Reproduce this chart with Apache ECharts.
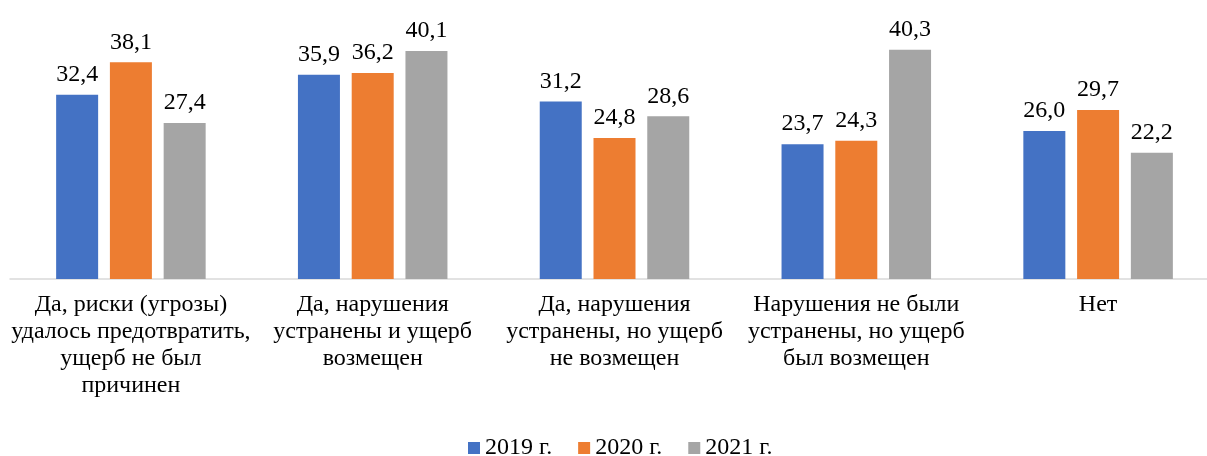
<!DOCTYPE html>
<html>
<head>
<meta charset="utf-8">
<script src="https://cdn.jsdelivr.net/npm/echarts@6/dist/echarts.min.js"></script>
<style>
    html, body { margin: 0; padding: 0; background: #fff; }
    #chart { width: 1207px; height: 456px; }
</style>
</head>
<body>
<div id="chart"></div>
<script>
    // категории (переносы строк как на картинке)
    var categories = [
        'Да, риски (угрозы)\nудалось предотвратить,\nущерб не был\nпричинен',
        'Да, нарушения\nустранены и ущерб\nвозмещен',
        'Да, нарушения\nустранены, но ущерб\nне возмещен',
        'Нарушения не были\nустранены, но ущерб\nбыл возмещен',
        'Нет'
    ];
    var seriesNames = ['2019 г.', '2020 г.', '2021 г.'];
    var data2019 = [32.4, 35.9, 31.2, 23.7, 26.0];
    var data2020 = [38.1, 36.2, 24.8, 24.3, 29.7];
    var data2021 = [27.4, 40.1, 28.6, 40.3, 22.2];
    var colors = ['#4472C4', '#ED7D31', '#A5A5A5'];

    var fontFam = 'Liberation Serif';

    var myChart = echarts.init(document.getElementById('chart'));

    function mkSeries(name, data, i) {
        return {
            name: name,
            type: 'bar',
            data: data,
            barWidth: 42,
            barGap: '28%',
            itemStyle: { color: colors[i] },
            label: {
                show: true,
                position: 'top',
                distance: 8,
                color: '#000',
                fontFamily: fontFam,
                fontSize: 24,
                formatter: function (p) {
                    return p.value.toFixed(1).replace('.', ',');
                }
            }
        };
    }

    var option = {
        animation: false,
        textStyle: { fontFamily: fontFam },
        grid: { left: 10, top: 23, width: 1209, bottom: 177, containLabel: false, outerBoundsMode: 'none' },
        legend: {
            left: 463,
            top: 431,
            itemWidth: 12,
            itemHeight: 12,
            itemGap: 26,
            icon: 'rect',
            textStyle: { fontFamily: fontFam, fontSize: 24, color: '#000' },
            data: seriesNames
        },
        xAxis: {
            type: 'category',
            data: categories,
            axisLine: { lineStyle: { color: '#D9D9D9', width: 1.5 } },
            axisTick: { show: false },
            axisLabel: {
                interval: 0,
                margin: 12,
                color: '#000',
                fontFamily: fontFam,
                fontSize: 24,
                lineHeight: 27
            }
        },
        yAxis: {
            type: 'value',
            min: 0,
            max: 45,
            show: false,
            splitLine: { show: false }
        },
        series: [
            mkSeries(seriesNames[0], data2019, 0),
            mkSeries(seriesNames[1], data2020, 1),
            mkSeries(seriesNames[2], data2021, 2)
        ]
    };
    myChart.setOption(option);
</script>
</body>
</html>
